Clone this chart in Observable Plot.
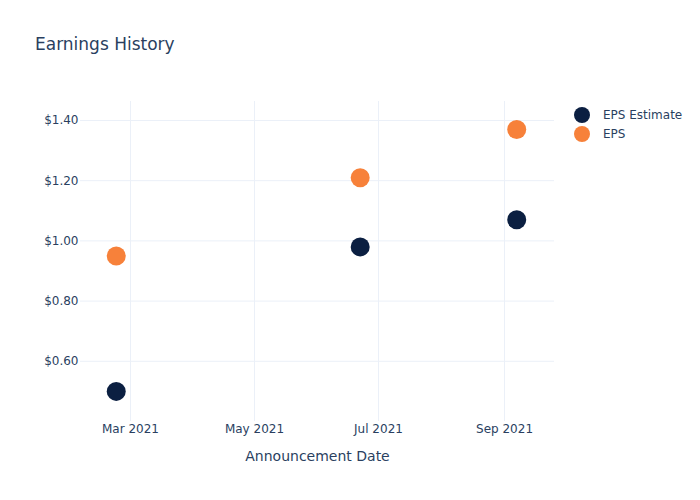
<!DOCTYPE html>
<html>
<head>
<meta charset="utf-8">
<script src="https://cdn.jsdelivr.net/npm/d3@7"></script>
<script src="https://cdn.jsdelivr.net/npm/@observablehq/plot@0.6"></script>
<style>
  body { margin: 0; background: #fff; font-family: "DejaVu Sans", sans-serif; }
  #wrap { position: relative; width: 700px; height: 500px; }
  #title { position: absolute; left: 35px; top: 34px; font-size: 17px; color: #2a3f5f; }
  #legend { position: absolute; left: 574px; top: 105px; font-size: 12px; color: #2a3f5f; }
  .item { display: flex; align-items: center; height: 19px; }
  .sw { width: 16px; height: 16px; border-radius: 50%; margin-right: 13px; }
</style>
</head>
<body>
<div id="wrap">
  <div id="title">Earnings History</div>
  <div id="legend"></div>
</div>
<script>
const dates = ["2021-02-22", "2021-06-22", "2021-09-07"];
const epsEstimate = [0.50, 0.98, 1.07];
const eps = [0.95, 1.21, 1.37];
const seriesNames = ["EPS Estimate", "EPS"];
const seriesColors = ["#0b1f41", "#f7813a"];
const xTicks = ["2021-03-01", "2021-05-01", "2021-07-01", "2021-09-01"];
const yTicks = [0.6, 0.8, 1.0, 1.2, 1.4];

const data = [];
dates.forEach((d, i) => {
  data.push({date: new Date(d), value: epsEstimate[i], series: seriesNames[0]});
  data.push({date: new Date(d), value: eps[i], series: seriesNames[1]});
});

const chart = Plot.plot({
  width: 700,
  height: 500,
  marginLeft: 80,
  marginRight: 146,
  marginTop: 101,
  marginBottom: 79,
  style: {fontFamily: "DejaVu Sans, sans-serif", fontSize: "12px", color: "#2a3f5f", background: "transparent"},
  x: {
    type: "utc",
    domain: [new Date("2021-02-04T10:00:00Z"), new Date("2021-09-25T14:00:00Z")],
    ticks: xTicks.map(d => new Date(d)),
    tickFormat: d3.utcFormat("%b %Y"),
    label: null
  },
  y: {
    domain: [0.40, 1.463],
    ticks: yTicks,
    tickFormat: d => "$" + d.toFixed(2),
    label: null
  },
  color: {domain: seriesNames, range: seriesColors},
  marks: [
    Plot.gridX(xTicks.map(d => new Date(d)), {stroke: "#ebf0f8", strokeOpacity: 1}),
    Plot.gridY(yTicks, {stroke: "#ebf0f8", strokeOpacity: 1}),
    Plot.axisX({ticks: xTicks.map(d => new Date(d)), tickFormat: d3.utcFormat("%b %Y"), tickSize: 0, tickPadding: 3, label: null, fill: "#2a3f5f"}),
    Plot.axisY({ticks: yTicks, tickFormat: d => "$" + d.toFixed(2), tickSize: 0, tickPadding: 2, label: null, fill: "#2a3f5f"}),
    Plot.text(["Announcement Date"], {frameAnchor: "bottom", dy: 39, fontSize: 14, fill: "#2a3f5f"}),
    Plot.dot(data, {x: "date", y: "value", fill: "series", r: 9.5})
  ]
});

const wrap = document.getElementById("wrap");
chart.style.position = "absolute";
chart.style.left = "0";
chart.style.top = "0";
wrap.insertBefore(chart, wrap.firstChild);

const legend = document.getElementById("legend");
seriesNames.forEach((n, i) => {
  const it = document.createElement("div");
  it.className = "item";
  const sw = document.createElement("div");
  sw.className = "sw";
  sw.style.background = seriesColors[i];
  const t = document.createElement("span");
  t.textContent = n;
  it.appendChild(sw);
  it.appendChild(t);
  legend.appendChild(it);
});
</script>
</body>
</html>
